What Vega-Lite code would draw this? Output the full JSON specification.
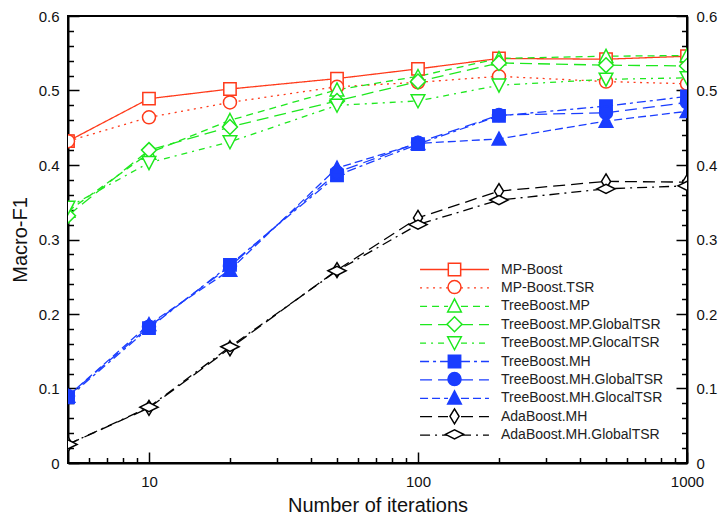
{
  "$schema": "https://vega.github.io/schema/vega-lite/v6.json",
  "width": 619,
  "height": 447,
  "autosize": {"type": "none"},
  "padding": {"left": 68, "top": 16, "right": 35, "bottom": 53},
  "background": "white",
  "config": {
    "font": "Liberation Sans",
    "view": {"stroke": "black", "strokeWidth": 2},
    "axis": {
      "grid": false,
      "domainColor": "black",
      "domainWidth": 2,
      "tickColor": "black",
      "tickWidth": 1.5,
      "labelFont": "Liberation Sans",
      "labelFontSize": 15,
      "labelColor": "#111",
      "labelFlush": false,
      "labelOverlap": false,
      "titleFont": "Liberation Sans",
      "titleFontSize": 20,
      "titleFontWeight": "normal",
      "titleColor": "#111",
      "zindex": 1
    }
  },
  "data": {
    "values": [
      {"method": "MP-Boost", "iterations": 5, "macroF1": 0.432},
      {"method": "MP-Boost", "iterations": 10, "macroF1": 0.489},
      {"method": "MP-Boost", "iterations": 20, "macroF1": 0.502},
      {"method": "MP-Boost", "iterations": 50, "macroF1": 0.516},
      {"method": "MP-Boost", "iterations": 100, "macroF1": 0.529},
      {"method": "MP-Boost", "iterations": 200, "macroF1": 0.543},
      {"method": "MP-Boost", "iterations": 500, "macroF1": 0.542},
      {"method": "MP-Boost", "iterations": 1000, "macroF1": 0.546},
      {"method": "MP-Boost.TSR", "iterations": 5, "macroF1": 0.432},
      {"method": "MP-Boost.TSR", "iterations": 10, "macroF1": 0.464},
      {"method": "MP-Boost.TSR", "iterations": 20, "macroF1": 0.484},
      {"method": "MP-Boost.TSR", "iterations": 50, "macroF1": 0.505},
      {"method": "MP-Boost.TSR", "iterations": 100, "macroF1": 0.511},
      {"method": "MP-Boost.TSR", "iterations": 200, "macroF1": 0.519},
      {"method": "MP-Boost.TSR", "iterations": 500, "macroF1": 0.512},
      {"method": "MP-Boost.TSR", "iterations": 1000, "macroF1": 0.509},
      {"method": "TreeBoost.MP", "iterations": 5, "macroF1": 0.338},
      {"method": "TreeBoost.MP", "iterations": 10, "macroF1": 0.416},
      {"method": "TreeBoost.MP", "iterations": 20, "macroF1": 0.46},
      {"method": "TreeBoost.MP", "iterations": 50, "macroF1": 0.501},
      {"method": "TreeBoost.MP", "iterations": 100, "macroF1": 0.519},
      {"method": "TreeBoost.MP", "iterations": 200, "macroF1": 0.543},
      {"method": "TreeBoost.MP", "iterations": 500, "macroF1": 0.546},
      {"method": "TreeBoost.MP", "iterations": 1000, "macroF1": 0.547},
      {"method": "TreeBoost.MP.GlobalTSR", "iterations": 5, "macroF1": 0.332},
      {"method": "TreeBoost.MP.GlobalTSR", "iterations": 10, "macroF1": 0.42},
      {"method": "TreeBoost.MP.GlobalTSR", "iterations": 20, "macroF1": 0.451},
      {"method": "TreeBoost.MP.GlobalTSR", "iterations": 50, "macroF1": 0.486},
      {"method": "TreeBoost.MP.GlobalTSR", "iterations": 100, "macroF1": 0.512},
      {"method": "TreeBoost.MP.GlobalTSR", "iterations": 200, "macroF1": 0.537},
      {"method": "TreeBoost.MP.GlobalTSR", "iterations": 500, "macroF1": 0.534},
      {"method": "TreeBoost.MP.GlobalTSR", "iterations": 1000, "macroF1": 0.533},
      {"method": "TreeBoost.MP.GlocalTSR", "iterations": 5, "macroF1": 0.343},
      {"method": "TreeBoost.MP.GlocalTSR", "iterations": 10, "macroF1": 0.403},
      {"method": "TreeBoost.MP.GlocalTSR", "iterations": 20, "macroF1": 0.431},
      {"method": "TreeBoost.MP.GlocalTSR", "iterations": 50, "macroF1": 0.48},
      {"method": "TreeBoost.MP.GlocalTSR", "iterations": 100, "macroF1": 0.486},
      {"method": "TreeBoost.MP.GlocalTSR", "iterations": 200, "macroF1": 0.507},
      {"method": "TreeBoost.MP.GlocalTSR", "iterations": 500, "macroF1": 0.515},
      {"method": "TreeBoost.MP.GlocalTSR", "iterations": 1000, "macroF1": 0.517},
      {"method": "TreeBoost.MH", "iterations": 5, "macroF1": 0.088},
      {"method": "TreeBoost.MH", "iterations": 10, "macroF1": 0.181},
      {"method": "TreeBoost.MH", "iterations": 20, "macroF1": 0.266},
      {"method": "TreeBoost.MH", "iterations": 50, "macroF1": 0.386},
      {"method": "TreeBoost.MH", "iterations": 100, "macroF1": 0.428},
      {"method": "TreeBoost.MH", "iterations": 200, "macroF1": 0.466},
      {"method": "TreeBoost.MH", "iterations": 500, "macroF1": 0.479},
      {"method": "TreeBoost.MH", "iterations": 1000, "macroF1": 0.492},
      {"method": "TreeBoost.MH.GlobalTSR", "iterations": 5, "macroF1": 0.09},
      {"method": "TreeBoost.MH.GlobalTSR", "iterations": 10, "macroF1": 0.183},
      {"method": "TreeBoost.MH.GlobalTSR", "iterations": 20, "macroF1": 0.264},
      {"method": "TreeBoost.MH.GlobalTSR", "iterations": 50, "macroF1": 0.39},
      {"method": "TreeBoost.MH.GlobalTSR", "iterations": 100, "macroF1": 0.43},
      {"method": "TreeBoost.MH.GlobalTSR", "iterations": 200, "macroF1": 0.467},
      {"method": "TreeBoost.MH.GlobalTSR", "iterations": 500, "macroF1": 0.47},
      {"method": "TreeBoost.MH.GlobalTSR", "iterations": 1000, "macroF1": 0.484},
      {"method": "TreeBoost.MH.GlocalTSR", "iterations": 5, "macroF1": 0.09},
      {"method": "TreeBoost.MH.GlocalTSR", "iterations": 10, "macroF1": 0.186},
      {"method": "TreeBoost.MH.GlocalTSR", "iterations": 20, "macroF1": 0.259},
      {"method": "TreeBoost.MH.GlocalTSR", "iterations": 50, "macroF1": 0.396},
      {"method": "TreeBoost.MH.GlocalTSR", "iterations": 100, "macroF1": 0.429},
      {"method": "TreeBoost.MH.GlocalTSR", "iterations": 200, "macroF1": 0.435},
      {"method": "TreeBoost.MH.GlocalTSR", "iterations": 500, "macroF1": 0.459},
      {"method": "TreeBoost.MH.GlocalTSR", "iterations": 1000, "macroF1": 0.472},
      {"method": "AdaBoost.MH", "iterations": 5, "macroF1": 0.025},
      {"method": "AdaBoost.MH", "iterations": 10, "macroF1": 0.074},
      {"method": "AdaBoost.MH", "iterations": 20, "macroF1": 0.154},
      {"method": "AdaBoost.MH", "iterations": 50, "macroF1": 0.259},
      {"method": "AdaBoost.MH", "iterations": 100, "macroF1": 0.329},
      {"method": "AdaBoost.MH", "iterations": 200, "macroF1": 0.365},
      {"method": "AdaBoost.MH", "iterations": 500, "macroF1": 0.378},
      {"method": "AdaBoost.MH", "iterations": 1000, "macroF1": 0.377},
      {"method": "AdaBoost.MH.GlobalTSR", "iterations": 5, "macroF1": 0.025},
      {"method": "AdaBoost.MH.GlobalTSR", "iterations": 10, "macroF1": 0.075},
      {"method": "AdaBoost.MH.GlobalTSR", "iterations": 20, "macroF1": 0.156},
      {"method": "AdaBoost.MH.GlobalTSR", "iterations": 50, "macroF1": 0.258},
      {"method": "AdaBoost.MH.GlobalTSR", "iterations": 100, "macroF1": 0.32},
      {"method": "AdaBoost.MH.GlobalTSR", "iterations": 200, "macroF1": 0.353},
      {"method": "AdaBoost.MH.GlobalTSR", "iterations": 500, "macroF1": 0.368},
      {"method": "AdaBoost.MH.GlobalTSR", "iterations": 1000, "macroF1": 0.372}
    ]
  },
  "encoding": {
    "x": {
      "field": "iterations",
      "type": "quantitative",
      "scale": {"type": "log", "domain": [5, 1000], "nice": false},
      "axis": {
        "title": "Number of iterations",
        "values": [6, 7, 8, 9, 10, 20, 30, 40, 50, 60, 70, 80, 90, 100, 200, 300, 400, 500, 600, 700, 800, 900, 1000],
        "labelExpr": "(datum.value == 10 || datum.value == 100 || datum.value == 1000) ? format(datum.value, 'd') : ''",
        "tickSize": {"condition": {"test": "datum.value == 10 || datum.value == 100 || datum.value == 1000", "value": -11}, "value": -5.5},
        "labelPadding": 22,
        "titlePadding": 1
      }
    }
  },
  "layer": [
    {
      "mark": {"type": "line", "clip": true, "strokeWidth": 1.3},
      "encoding": {
        "y": {
          "field": "macroF1",
          "type": "quantitative",
          "scale": {"domain": [0, 0.6], "nice": false},
          "axis": {
            "title": "Macro-F1",
            "orient": "left",
            "values": [0, 0.02, 0.04, 0.06, 0.08, 0.1, 0.12, 0.14, 0.16, 0.18, 0.2, 0.22, 0.24, 0.26, 0.28, 0.3, 0.32, 0.34, 0.36, 0.38, 0.4, 0.42, 0.44, 0.46, 0.48, 0.5, 0.52, 0.54, 0.56, 0.58, 0.6],
            "labelExpr": "abs(datum.value * 10 - round(datum.value * 10)) < 0.001 ? format(datum.value, '.1~f') : ''",
            "tickSize": {"condition": {"test": "abs(datum.value * 10 - round(datum.value * 10)) < 0.001", "value": -11}, "value": -5.5},
            "labelPadding": 20,
            "titlePadding": 8
          }
        },
        "color": {
          "field": "method",
          "type": "nominal",
          "scale": {
            "domain": ["MP-Boost", "MP-Boost.TSR", "TreeBoost.MP", "TreeBoost.MP.GlobalTSR", "TreeBoost.MP.GlocalTSR", "TreeBoost.MH", "TreeBoost.MH.GlobalTSR", "TreeBoost.MH.GlocalTSR", "AdaBoost.MH", "AdaBoost.MH.GlobalTSR"],
            "range": ["#ff3a1a", "#ff3a1a", "#1ee81e", "#1ee81e", "#1ee81e", "#1a3dff", "#1a3dff", "#1a3dff", "#000000", "#000000"]
          },
          "legend": {
            "orient": "none", "legendX": 379, "legendY": 246, "title": null, "padding": 0,
            "symbolType": "M-5.3,0H-1M1,0H5.3", "symbolSize": 169, "symbolStrokeWidth": 1.3,
            "labelFontSize": 14, "labelFont": "Liberation Sans", "labelColor": "#222", "labelOffset": 39, "rowPadding": 3.4, "labelLimit": 300
          }
        },
        "strokeDash": {
          "field": "method",
          "type": "nominal",
          "scale": {
            "domain": ["MP-Boost", "MP-Boost.TSR", "TreeBoost.MP", "TreeBoost.MP.GlobalTSR", "TreeBoost.MP.GlocalTSR", "TreeBoost.MH", "TreeBoost.MH.GlobalTSR", "TreeBoost.MH.GlocalTSR", "AdaBoost.MH", "AdaBoost.MH.GlobalTSR"],
            "range": [[1, 0], [2, 4.5], [7, 5], [12, 6], [6, 5, 2, 5], [9, 4, 3, 4], [12, 6], [8, 4], [12, 6], [10, 5, 2, 5]]
          },
          "legend": {
            "orient": "none", "legendX": 379, "legendY": 246, "title": null, "padding": 0,
            "symbolType": "M-5.3,0H-1M1,0H5.3", "symbolSize": 169, "symbolStrokeWidth": 1.3,
            "labelFontSize": 14, "labelFont": "Liberation Sans", "labelColor": "#222", "labelOffset": 39, "rowPadding": 3.4, "labelLimit": 300
          }
        }
      }
    },
    {
      "mark": {"type": "point", "clip": true, "size": 169, "strokeWidth": 1.5, "opacity": 1, "filled": true},
      "encoding": {
        "y": {
          "field": "macroF1",
          "type": "quantitative",
          "scale": {"domain": [0, 0.6], "nice": false},
          "axis": {
            "title": null,
            "orient": "right",
            "values": [0, 0.02, 0.04, 0.06, 0.08, 0.1, 0.12, 0.14, 0.16, 0.18, 0.2, 0.22, 0.24, 0.26, 0.28, 0.3, 0.32, 0.34, 0.36, 0.38, 0.4, 0.42, 0.44, 0.46, 0.48, 0.5, 0.52, 0.54, 0.56, 0.58, 0.6],
            "labelExpr": "abs(datum.value * 10 - round(datum.value * 10)) < 0.001 ? format(datum.value, '.1~f') : ''",
            "tickSize": {"condition": {"test": "abs(datum.value * 10 - round(datum.value * 10)) < 0.001", "value": -11}, "value": -5.5},
            "labelPadding": 20
          }
        },
        "shape": {
          "field": "method",
          "type": "nominal",
          "sort": null,
          "scale": {
            "range": ["M-0.95,-0.95H0.95V0.95H-0.95Z", "circle", "M0,-1.05L1.05,0.95L-1.05,0.95Z", "M0,-1.15L1.15,0L0,1.15L-1.15,0Z", "M0,1.05L1.05,-0.95L-1.05,-0.95Z", "M-0.95,-0.95H0.95V0.95H-0.95Z", "circle", "M0,-1.05L1.05,0.95L-1.05,0.95Z", "M0,-1.15L0.7,0L0,1.15L-0.7,0Z", "M-1.4,0L0,-0.7L1.4,0L0,0.7Z"]
          },
          "legend": {
            "orient": "none", "legendX": 379, "legendY": 246, "title": null, "padding": 0,
            "symbolSize": 169, "symbolStrokeWidth": 1.5,
            "labelFontSize": 14, "labelFont": "Liberation Sans", "labelOpacity": 0, "labelOffset": 38, "rowPadding": -1.4, "labelLimit": 300
          }
        },
        "stroke": {
          "field": "method",
          "type": "nominal",
          "sort": null,
          "scale": {
            "range": ["#ff3a1a", "#ff3a1a", "#1ee81e", "#1ee81e", "#1ee81e", "#1a3dff", "#1a3dff", "#1a3dff", "#000000", "#000000"]
          },
          "legend": {
            "orient": "none", "legendX": 379, "legendY": 246, "title": null, "padding": 0,
            "symbolSize": 169, "symbolStrokeWidth": 1.5,
            "labelFontSize": 14, "labelFont": "Liberation Sans", "labelOpacity": 0, "labelOffset": 38, "rowPadding": -1.4, "labelLimit": 300
          }
        },
        "fill": {
          "field": "method",
          "type": "nominal",
          "sort": null,
          "scale": {
            "range": ["#ffffff", "#ffffff", "#ffffff", "#ffffff", "#ffffff", "#1a3dff", "#1a3dff", "#1a3dff", "#ffffff", "#ffffff"]
          },
          "legend": {
            "orient": "none", "legendX": 379, "legendY": 246, "title": null, "padding": 0,
            "symbolSize": 169, "symbolStrokeWidth": 1.5,
            "labelFontSize": 14, "labelFont": "Liberation Sans", "labelOpacity": 0, "labelOffset": 38, "rowPadding": -1.4, "labelLimit": 300
          }
        }
      }
    }
  ],
  "resolve": {"axis": {"y": "independent"}}
}
